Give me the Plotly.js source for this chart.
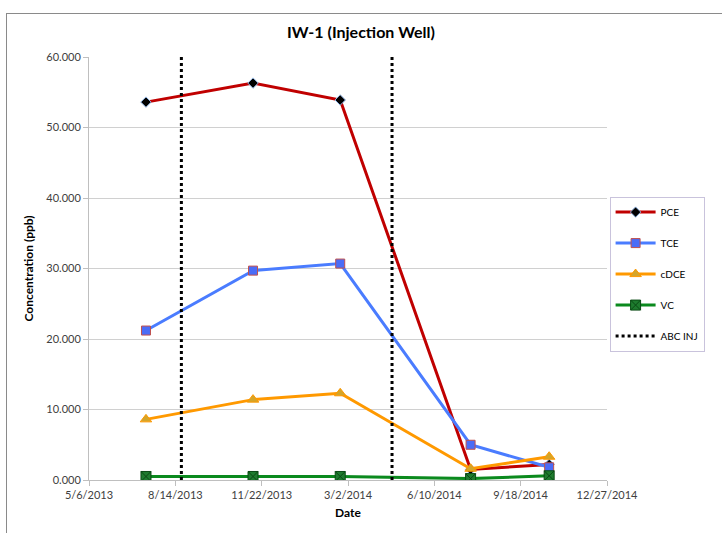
<!DOCTYPE html>
<html><head><meta charset="utf-8">
<script src="https://cdn.plot.ly/plotly-3.0.1.min.js"></script>
<style>
body{margin:0;background:#fff;}
#wrap{position:relative;width:722px;height:533px;}
#frame{position:absolute;left:6px;top:13px;width:730px;height:540px;border-left:1px solid #8a8a8a;border-top:1px solid #8a8a8a;pointer-events:none;}
#chart{position:absolute;left:0;top:0;width:722px;height:533px;}
</style></head>
<body><div id="wrap"><div id="chart"></div><div id="frame"></div></div>
<script>
const sampleDates = ['2013-07-11','2013-11-12','2014-02-21','2014-07-22','2014-10-21'];
const pce  = [53.6, 56.3, 53.9, 1.5, 2.2];
const tce  = [21.2, 29.7, 30.7, 5.0, 1.8];
const cdce = [8.6, 11.4, 12.3, 1.6, 3.3];
const vc   = [0.5, 0.5, 0.5, 0.2, 0.6];
const injDates = ['2013-08-21','2014-04-22'];
const injRange = [0, 60];
const tickDates = ['2013-05-06','2013-08-14','2013-11-22','2014-03-02','2014-06-10','2014-09-18','2014-12-27'];
const tickLabels = ['5/6/2013','8/14/2013','11/22/2013','3/2/2014','6/10/2014','9/18/2014','12/27/2014'];
const yTicks = [0,10,20,30,40,50,60];

const injX = [], injY = [];
injDates.forEach((d,i)=>{ if(i) {injX.push(null); injY.push(null);} injX.push(d,d); injY.push(injRange[0],injRange[1]); });

const traces = [
 {name:'PCE', x:sampleDates, y:pce, mode:'lines+markers', legendgroup:'a',
  line:{color:'#C00000', width:3}, marker:{symbol:'diamond', size:8, color:'#000', line:{color:'#8fb4e3', width:1}}},
 {name:'TCE', x:sampleDates, y:tce, mode:'lines+markers', legendgroup:'b',
  line:{color:'#4A7CFF', width:3}, marker:{symbol:'square', size:9, color:'#4A6CF7', line:{color:'#C0504D', width:1}}},
 {name:'cDCE', x:sampleDates, y:cdce, mode:'lines+markers', legendgroup:'c',
  line:{color:'#FF9900', width:3}, marker:{symbol:'triangle-up', size:10, color:'#D4A52A', line:{color:'#FF9900', width:1}}},
 {name:'VC', x:sampleDates, y:vc, mode:'lines+markers', legendgroup:'d',
  line:{color:'#0B8A1E', width:3}, marker:{symbol:'square-x', size:10, color:'#1E7B2E', line:{color:'#0a4a14', width:1}}},
 {name:'ABC INJ', x:injX, y:injY, mode:'lines', legendgroup:'e', connectgaps:false,
  line:{color:'#000', width:3, dash:'dot'}}
];

const layout = {
  width:722, height:533,
  margin:{l:89, r:115, t:57, b:53},
  paper_bgcolor:'#fff', plot_bgcolor:'#fff',
  font:{family:'Lato, "Open Sans", sans-serif', color:'#404040', size:11},
  title:{text:'<b>IW-1 (Injection Well)</b>', x:0.5, xanchor:'center', y:0.94, yanchor:'middle',
         font:{size:16, color:'#000', family:'Lato, "Open Sans", sans-serif'}},
  xaxis:{type:'date', range:['2013-05-06','2014-12-27'], tickvals:tickDates, ticktext:tickLabels,
         showgrid:false, showline:true, linecolor:'#bfbfbf', linewidth:1, ticks:'outside', ticklen:5, tickcolor:'#bfbfbf',
         tickfont:{size:11, color:'#404040'}, zeroline:false,
         title:{text:'<b>Date</b>', font:{size:12, color:'#000'}, standoff:8}},
  yaxis:{range:[0,60], tickvals:yTicks, tickformat:'.3f', showgrid:true, gridcolor:'#d0d0d0', gridwidth:1,
         showline:true, linecolor:'#bfbfbf', ticks:'outside', ticklen:5, tickcolor:'#bfbfbf', zeroline:false,
         tickfont:{size:11, color:'#404040'},
         title:{text:'<b>Concentration (ppb)</b>', font:{size:12, color:'#000'}, standoff:10}},
  legend:{x:1.005, xanchor:'left', y:0.67, yanchor:'top', bordercolor:'#c9c3dc', borderwidth:1,
          font:{size:10, color:'#000'}, traceorder:'grouped', tracegroupgap:12, itemwidth:40, bgcolor:'#fff'},
  showlegend:true
};
Plotly.newPlot('chart', traces, layout, {displayModeBar:false, staticPlot:true});
</script></body></html>
